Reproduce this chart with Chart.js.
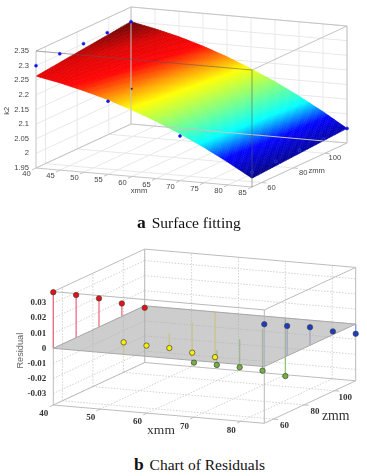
<!DOCTYPE html>
<html>
<head>
<meta charset="utf-8">
<title>Surface fitting and residuals</title>
<script src="https://cdn.jsdelivr.net/npm/chart.js@4/dist/chart.umd.js"></script>
<style>
    html, body { margin: 0; padding: 0; background: #fff; }
    #page { position: relative; width: 367px; height: 476px; overflow: hidden; }
    canvas { position: absolute; left: 0; filter: blur(0.45px); }
    #chartA { top: 0; }
    #chartB { top: 235px; }
    .caption { position: absolute; font-family: "Liberation Serif", serif; font-size: 15.5px; line-height: 18px; white-space: nowrap; color: #111; }
    .caption b { font-size: 17.5px; margin-right: 2px; }
</style>
</head>
<body>
<div id="page">
    <canvas id="chartA" width="367" height="235"></canvas>
    <canvas id="chartB" width="367" height="215"></canvas>
    <div class="caption" style="left:137px;top:213px"><b>a</b> Surface fitting</div>
    <div class="caption" style="left:134px;top:455px"><b>b</b> Chart of Residuals</div>
</div>
<script>
// values
const xTicksA = [40, 45, 50, 55, 60, 65, 70, 75, 80, 85];
const zTicks = [60, 80, 100];
const k2Ticks = [1.95, 2, 2.05, 2.1, 2.15, 2.2, 2.25, 2.3, 2.35];
const k2TickLabels = ['1.95', '2', '2.05', '2.1', '2.15', '2.2', '2.25', '2.3', '2.35'];

// fitted surface, one k2 row for each edge of the z range
const surfaceX = [40, 45, 50, 55, 60, 65, 70, 75, 80, 85];
const surfaceZ = [54, 114];
const surfaceK2Near = [2.264, 2.248, 2.228, 2.205, 2.177, 2.146, 2.11, 2.071, 2.027, 1.98];
const surfaceK2Far = [2.30, 2.283, 2.263, 2.238, 2.209, 2.175, 2.138, 2.096, 2.05, 2.00];

// measured samples that can be seen in chart a
const sampleX = [40, 40, 40, 40, 40, 55, 55, 70, 85, 85, 85, 85, 85];
const sampleZ = [54, 69, 84, 99, 114, 54, 69, 54, 54, 69, 84, 99, 114];
const sampleK2 = [2.30, 2.303, 2.30, 2.30, 2.30, 2.20, 2.205, 2.103, 2.00, 2.00, 2.00, 2.00, 2.00];

// colour of the surface against k2
const colourK2 = [1.98, 2.035, 2.08, 2.13, 2.18, 2.205, 2.24, 2.27, 2.30];
const colourRGB = [[0, 0, 130], [0, 0, 255], [0, 255, 255], [128, 255, 128], [255, 255, 0], [255, 160, 0], [255, 0, 0], [220, 0, 0], [100, 0, 0]];

const xTicksB = [40, 50, 60, 70, 80];
const residualTicks = [-0.03, -0.02, -0.01, 0, 0.01, 0.02, 0.03];
const residualTickLabels = ['-0.03', '-0.02', '-0.01', '0', '0.01', '0.02', '0.03'];
const residualZ = [54, 69, 84, 99, 114];
const residualRed = [0.0372, 0.0283, 0.019, 0.0086, -0.0013];     // x = 40
const residualYellow = [0.008, -0.0012, -0.0099, -0.02, -0.03];   // x = 55
const residualGreen = [-0.0014, -0.01, -0.0186, -0.0279, -0.0385]; // x = 70
const residualBlue = [0.0281, 0.0199, 0.012, 0.0022, -0.0064];    // x = 85

// view of each box: screen position of the origin corner and where the axes run
const viewA = { ox: 36, oy: 168, xx: 216, xy: 19, zx: 95, zy: -44, h: 117, x0: 40, x1: 85, z0: 54, z1: 114, k0: 1.95, k1: 2.35 };
const viewB = { ox: 53.3, oy: 170, xx: 211, xy: 18.3, zx: 91.4, zy: -42.5, h: 113.4, x0: 40, x1: 85, z0: 54, z1: 114, k0: -0.0376, k1: 0.0376 };

function project(v, x, z, k) {
    var tx = (x - v.x0) / (v.x1 - v.x0);
    var tz = (z - v.z0) / (v.z1 - v.z0);
    var tk = (k - v.k0) / (v.k1 - v.k0);
    return { x: v.ox + v.xx * tx + v.zx * tz, y: v.oy + v.xy * tx + v.zy * tz - v.h * tk };
}

function addSegment(list, a, b) {
    list.push(a, b, { x: null, y: null });
}

// grid lines on the two back walls and the floor
function gridLines(v, xs, zs, ks) {
    var out = [];
    xs.forEach(function (x) {
        addSegment(out, project(v, x, v.z0, v.k0), project(v, x, v.z1, v.k0));
        addSegment(out, project(v, x, v.z1, v.k0), project(v, x, v.z1, v.k1));
    });
    zs.forEach(function (z) {
        addSegment(out, project(v, v.x0, z, v.k0), project(v, v.x1, z, v.k0));
        addSegment(out, project(v, v.x0, z, v.k0), project(v, v.x0, z, v.k1));
    });
    ks.forEach(function (k) {
        addSegment(out, project(v, v.x0, v.z0, k), project(v, v.x0, v.z1, k));
        addSegment(out, project(v, v.x0, v.z1, k), project(v, v.x1, v.z1, k));
    });
    return out;
}

function backEdges(v, xs, zs) {
    var out = [];
    addSegment(out, project(v, v.x0, v.z0, v.k0), project(v, v.x1, v.z0, v.k0));
    addSegment(out, project(v, v.x1, v.z0, v.k0), project(v, v.x1, v.z1, v.k0));
    addSegment(out, project(v, v.x1, v.z1, v.k0), project(v, v.x0, v.z1, v.k0));
    addSegment(out, project(v, v.x0, v.z1, v.k0), project(v, v.x0, v.z0, v.k0));
    addSegment(out, project(v, v.x0, v.z0, v.k1), project(v, v.x0, v.z1, v.k1));
    addSegment(out, project(v, v.x0, v.z1, v.k1), project(v, v.x1, v.z1, v.k1));
    addSegment(out, project(v, v.x1, v.z1, v.k1), project(v, v.x1, v.z0, v.k1));
    addSegment(out, project(v, v.x0, v.z0, v.k0), project(v, v.x0, v.z0, v.k1));
    addSegment(out, project(v, v.x0, v.z1, v.k0), project(v, v.x0, v.z1, v.k1));
    addSegment(out, project(v, v.x1, v.z1, v.k0), project(v, v.x1, v.z1, v.k1));
    // short tick marks on the floor axes
    xs.forEach(function (x) {
        addSegment(out, project(v, x, v.z0, v.k0), project(v, x, v.z0 - 2.5, v.k0));
    });
    zs.forEach(function (z) {
        addSegment(out, project(v, v.x1, z, v.k0), project(v, v.x1 + 1, z, v.k0));
    });
    return out;
}

function frontEdges(v) {
    var out = [];
    addSegment(out, project(v, v.x0, v.z0, v.k1), project(v, v.x1, v.z0, v.k1));
    addSegment(out, project(v, v.x1, v.z0, v.k0), project(v, v.x1, v.z0, v.k1));
    return out;
}

function lineSet(label, data, colour, order, dash) {
    return {
        label: label, data: data, showLine: true, borderColor: colour, borderWidth: 1,
        borderDash: dash || [], pointRadius: 0, order: order, clip: false
    };
}

function surfaceColour(k) {
    var i = 0;
    while (i < colourK2.length - 2 && k > colourK2[i + 1]) i++;
    var t = Math.min(1, Math.max(0, (k - colourK2[i]) / (colourK2[i + 1] - colourK2[i])));
    var c = colourRGB[i].map(function (a, n) { return Math.round(a + (colourRGB[i + 1][n] - a) * t); });
    return 'rgb(' + c.join(',') + ')';
}

// paints the fitted surface right after the grid, through the chart's scales
const surfacePlugin = {
    id: 'surface',
    afterDatasetDraw: function (chart, args) {
        if (chart.data.datasets[args.index].label !== 'grid') return;
        var ctx = chart.ctx, sx = chart.scales.x, sy = chart.scales.y;
        var zSteps = 60, xSub = 12;
        function corner(i, s, w) {
            var a = i + s / xSub;
            var i0 = Math.min(Math.floor(a), surfaceX.length - 2);
            var f = a - i0;
            var x = surfaceX[i0] + (surfaceX[i0 + 1] - surfaceX[i0]) * f;
            var near = surfaceK2Near[i0] + (surfaceK2Near[i0 + 1] - surfaceK2Near[i0]) * f;
            var far = surfaceK2Far[i0] + (surfaceK2Far[i0 + 1] - surfaceK2Far[i0]) * f;
            var k = near + (far - near) * w;
            var p = project(viewA, x, surfaceZ[0] + (surfaceZ[1] - surfaceZ[0]) * w, k);
            return { px: sx.getPixelForValue(p.x), py: sy.getPixelForValue(p.y), k: k };
        }
        ctx.save();
        ctx.lineWidth = 0.5;
        for (var i = 0; i < surfaceX.length - 1; i++) {
            for (var s = 0; s < xSub; s++) {
                for (var j = 0; j < zSteps; j++) {
                    var a = corner(i, s, j / zSteps), b = corner(i, s + 1, j / zSteps);
                    var c = corner(i, s + 1, (j + 1) / zSteps), d = corner(i, s, (j + 1) / zSteps);
                    ctx.fillStyle = ctx.strokeStyle = surfaceColour((a.k + c.k) / 2);
                    ctx.beginPath();
                    ctx.moveTo(a.px, a.py);
                    ctx.lineTo(b.px, b.py);
                    ctx.lineTo(c.px, c.py);
                    ctx.lineTo(d.px, d.py);
                    ctx.closePath();
                    ctx.fill();
                    ctx.stroke();
                }
            }
        }
        ctx.restore();
    }
};

// tick labels and axis titles
const labelPlugin = {
    id: 'boxLabels',
    afterDraw: function (chart, args, opts) {
        var ctx = chart.ctx;
        ctx.save();
        ctx.textBaseline = 'middle';
        opts.texts.forEach(function (t) {
            ctx.save();
            ctx.font = t.font || opts.font;
            ctx.textAlign = t.align || 'center';
            ctx.fillStyle = t.colour || opts.colour;
            ctx.translate(t.x, t.y);
            if (t.rotate) ctx.rotate(t.rotate);
            ctx.fillText(t.text, 0, 0);
            ctx.restore();
        });
        ctx.restore();
    }
};

function baseOptions(w, h, labels) {
    return {
        responsive: false,
        animation: false,
        events: [],
        layout: { padding: 0, autoPadding: false },
        scales: {
            x: { type: 'linear', display: false, min: 0, max: w },
            y: { type: 'linear', display: false, min: 0, max: h, reverse: true }
        },
        plugins: {
            legend: { display: false },
            tooltip: { enabled: false },
            boxLabels: labels
        }
    };
}

// chart a
var textsA = [];
k2Ticks.forEach(function (k, i) {
    var p = project(viewA, viewA.x0, viewA.z0, k);
    textsA.push({ text: k2TickLabels[i], x: p.x - 7, y: p.y, align: 'right' });
});
xTicksA.forEach(function (x) {
    var p = project(viewA, x, viewA.z0, viewA.k0);
    textsA.push({ text: String(x), x: p.x - 9.5, y: p.y + 6 });
});
zTicks.forEach(function (z) {
    var p = project(viewA, viewA.x1, z, viewA.k0);
    textsA.push({ text: String(z), x: p.x + 10, y: p.y + 5 });
});
textsA.push({ text: 'xmm', x: 139, y: 190.7 });
textsA.push({ text: 'zmm', x: 316.7, y: 171 });
textsA.push({ text: 'k2', x: 7.3, y: 110.7, rotate: -Math.PI / 2 });

var samplePoints = sampleX.map(function (x, i) { return project(viewA, x, sampleZ[i], sampleK2[i]); });

new Chart(document.getElementById('chartA'), {
    type: 'scatter',
    data: {
        datasets: [
            {
                label: 'samples', data: samplePoints, order: 0, clip: false,
                pointRadius: function (c) { return c.dataIndex === 6 ? 0.8 : 1.5; },
                pointBackgroundColor: function (c) {
                    if (c.dataIndex === 6) return '#1a1a90';
                    return c.dataIndex >= 8 && c.dataIndex < 12 ? 'rgba(20,20,190,0.6)' : '#1414f0';
                },
                pointBorderColor: function (c) {
                    if (c.dataIndex === 6) return '#1a1a90';
                    return c.dataIndex >= 8 && c.dataIndex < 12 ? 'rgba(90,110,255,0.7)' : '#1414f0';
                },
                pointBorderWidth: 0.5
            },
            lineSet('front', frontEdges(viewA), 'rgba(90,90,90,0.55)', 1),
            lineSet('box', backEdges(viewA, xTicksA, zTicks), '#c4c4c4', 2),
            lineSet('grid', gridLines(viewA, xTicksA, zTicks, k2Ticks), '#e8e8e8', 3)
        ]
    },
    options: baseOptions(367, 235, { font: '7.6px "Liberation Sans", sans-serif', colour: '#444', texts: textsA }),
    plugins: [surfacePlugin, labelPlugin]
});

// chart b
var serifBold = 'bold 9px "Liberation Serif", serif';
var textsB = [];
residualTicks.forEach(function (k, i) {
    var p = project(viewB, viewB.x0, viewB.z0, k);
    textsB.push({ text: residualTickLabels[i], x: p.x - 7, y: p.y, align: 'right' });
});
xTicksB.forEach(function (x) {
    var p = project(viewB, x, viewB.z0, viewB.k0);
    textsB.push({ text: String(x), x: p.x - 9.5, y: p.y + 9 });
});
zTicks.forEach(function (z) {
    var p = project(viewB, viewB.x1, z, viewB.k0);
    textsB.push({ text: String(z), x: p.x + 11, y: p.y + 7 });
});
textsB.push({ text: 'xmm', x: 161, y: 195, font: '13.5px "Liberation Serif", serif' });
textsB.push({ text: 'zmm', x: 335.7, y: 181, font: '13.8px "Liberation Serif", serif' });
textsB.push({ text: 'Residual', x: 20, y: 115.7, rotate: -Math.PI / 2, font: '9.2px "Liberation Sans", sans-serif', colour: '#666' });

function residualPoints(x, values) {
    return values.map(function (r, i) { return project(viewB, x, residualZ[i], r); });
}

function stems(x, values) {
    var out = [];
    values.forEach(function (r, i) {
        addSegment(out, project(viewB, x, residualZ[i], r), project(viewB, x, residualZ[i], 0));
    });
    return out;
}

function markerSet(label, data, colour) {
    return {
        label: label, data: data, order: 0, clip: false, pointRadius: 2.7,
        pointBackgroundColor: colour, pointBorderColor: '#444', pointBorderWidth: 0.7
    };
}

function stemSet(label, data, colour) {
    return Object.assign(lineSet(label, data, colour, 3), { borderWidth: 1.3 });
}

var plane = [
    project(viewB, viewB.x0, viewB.z0, 0),
    project(viewB, viewB.x0, viewB.z1, 0),
    project(viewB, viewB.x1, viewB.z1, 0),
    project(viewB, viewB.x1, viewB.z0, 0),
    project(viewB, viewB.x0, viewB.z0, 0)
];

new Chart(document.getElementById('chartB'), {
    type: 'scatter',
    data: {
        datasets: [
            markerSet('x40', residualPoints(40, residualRed), '#e60f12'),
            markerSet('x55', residualPoints(55, residualYellow), '#f8f000'),
            markerSet('x70', residualPoints(70, residualGreen), '#74b040'),
            markerSet('x85', residualPoints(85, residualBlue), '#1a3cc4'),
            lineSet('front', frontEdges(viewB), '#b8b8b8', 1),
            Object.assign(lineSet('plane', plane, '#a8a8a8', 2), { fill: 'shape', backgroundColor: 'rgba(175,175,175,0.62)' }),
            stemSet('redStems', stems(40, residualRed), '#ee6f82'),
            stemSet('yellowStems', stems(55, residualYellow), '#f2ea4a'),
            stemSet('greenStems', stems(70, residualGreen), '#90c87a'),
            stemSet('blueStems', stems(85, residualBlue), '#8f9be0'),
            lineSet('box', backEdges(viewB, xTicksB, zTicks), '#bcbcbc', 4),
            lineSet('grid', gridLines(viewB, xTicksB, zTicks, residualTicks), '#d2d2d2', 5, [1.5, 1.5])
        ]
    },
    options: baseOptions(367, 215, { font: serifBold, colour: '#333', texts: textsB }),
    plugins: [labelPlugin]
});
</script>
</body>
</html>
